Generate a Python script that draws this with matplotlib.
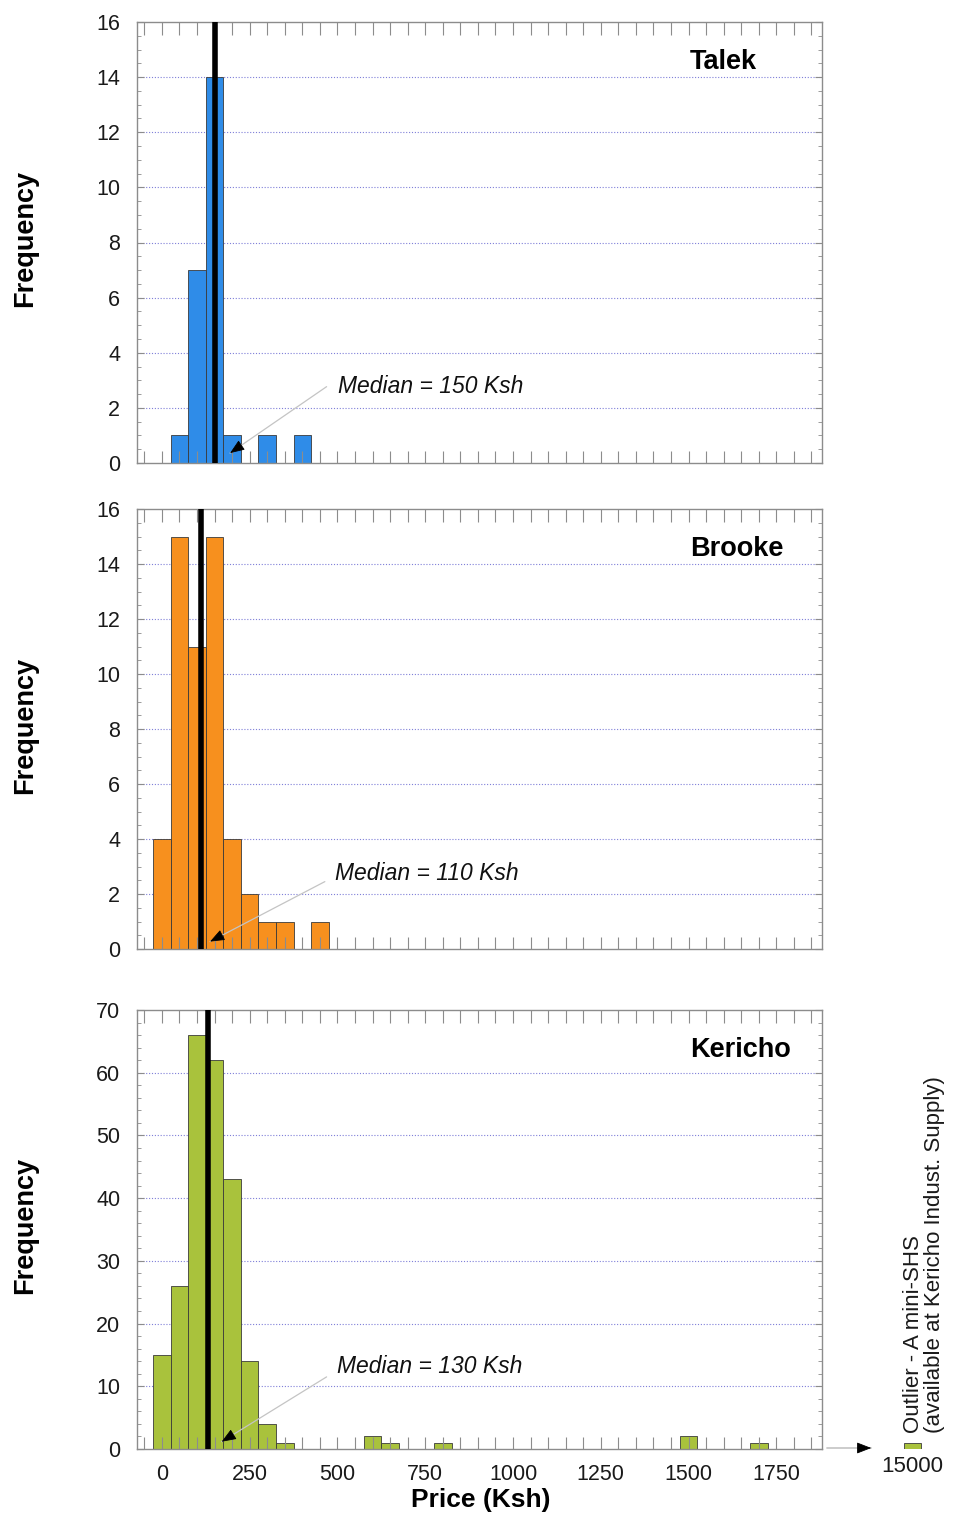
import numpy as np
import matplotlib
matplotlib.use("Agg")
import matplotlib.pyplot as plt
from matplotlib.ticker import MultipleLocator, FuncFormatter

plt.rcParams['font.family'] = ['Liberation Sans', 'DejaVu Sans']

# ---- data: price histograms (bin centres in Ksh, 50 Ksh wide bins) ----
site_names = ['Talek', 'Brooke', 'Kericho']
talek_bins = [50, 100, 150, 200, 300, 400]
talek_counts = [1, 7, 14, 1, 1, 1]
brooke_bins = [0, 50, 100, 150, 200, 250, 300, 350, 450]
brooke_counts = [4, 15, 11, 15, 4, 2, 1, 1, 1]
kericho_bins = [0, 50, 100, 150, 200, 250, 300, 350, 600, 650, 800, 1500, 1700]
kericho_counts = [15, 26, 66, 62, 43, 14, 4, 1, 2, 1, 1, 2, 1]
medians = [150, 110, 130]
outlier_price = 15000
outlier_count = 1
bin_width = 50
x_tick_labels = [0, 250, 500, 750, 1000, 1250, 1500, 1750]

bins_list = [talek_bins, brooke_bins, kericho_bins]
counts_list = [talek_counts, brooke_counts, kericho_counts]
colors = ['#2f8ce8', '#f7901e', '#a9c23c']
y_max = [16, 16, 70]
y_major = [2, 2, 10]
y_minor = [0.5, 0.5, 2]

W, H = 955, 1515
fig = plt.figure(figsize=(W / 100, H / 100), dpi=100)


def px_rect(l, t, r, b):
    return [l / W, 1 - b / H, (r - l) / W, (b - t) / H]


panel_px = [(137, 22, 822, 463), (137, 509, 822, 949), (137, 1010, 822, 1449)]
XLIM = (-71, 1880)
PX_PER_KSH = (822 - 137) / (XLIM[1] - XLIM[0])

# annotation layout: text anchor, pointer tail, pointer tip (data coords)
med_text_pos = [(501, 2.79), (493, 2.73), (499, 13.2)]
ptr_tail = [(469, 2.77), (464, 2.45), (469, 11.5)]
ptr_tip = [(194, 0.36), (137, 0.27), (170, 1.16)]

spine_col = '#8c8c8c'
grid_col = '#7f7fd8'
tick_fs = 15.5

axes = []
for i in range(3):
    ax = fig.add_axes(px_rect(*panel_px[i]))
    axes.append(ax)
    ax.set_xlim(*XLIM)
    ax.set_ylim(0, y_max[i])

    # dotted horizontal guides behind the bars
    for yv in np.arange(y_major[i], y_max[i], y_major[i]):
        ax.axhline(yv, color=grid_col, lw=0.8, ls=(0, (1, 1.6)), zorder=0.5)

    ax.bar(bins_list[i], counts_list[i], width=bin_width, color=colors[i],
           edgecolor='#3a3a3a', linewidth=0.6, zorder=1)

    ax.axvline(medians[i], color='black', lw=4.0, zorder=3)

    for s in ax.spines.values():
        s.set_color(spine_col)
        s.set_linewidth(1.0)

    ax.xaxis.set_major_locator(MultipleLocator(50))
    ax.yaxis.set_major_locator(MultipleLocator(y_major[i]))
    ax.yaxis.set_minor_locator(MultipleLocator(y_minor[i]))
    ax.tick_params(axis='both', which='both', direction='in', colors=spine_col,
                   top=True, right=True, labelcolor='#1a1a1a', labelsize=tick_fs)
    ax.tick_params(axis='x', which='major', length=9, width=0.8, pad=11)
    ax.tick_params(axis='y', which='major', length=5, width=0.8, pad=12)
    ax.tick_params(axis='y', which='minor', length=3, width=0.6)

    if i < 2:
        ax.tick_params(axis='x', labelbottom=False)
    else:
        ax.xaxis.set_major_formatter(FuncFormatter(
            lambda v, p: f'{int(round(v))}' if int(round(v)) in x_tick_labels else ''))

    ax.text((690 - 137) / 685, 1 - 40 / 441, site_names[i], transform=ax.transAxes,
            ha='left', va='center', fontsize=19.5, fontweight='bold', color='black')

    ax.text(med_text_pos[i][0], med_text_pos[i][1], f'Median = {medians[i]} Ksh',
            ha='left', va='center', fontsize=16.5, fontstyle='italic', color='#111111', zorder=4)

    # thin grey leader with a black arrow head
    ax.annotate('', xy=ptr_tip[i], xytext=ptr_tail[i],
                arrowprops=dict(arrowstyle='-', color='#c4c4c4', lw=0.9,
                                shrinkA=0, shrinkB=0), zorder=4)
    p0 = ax.transData.transform(ptr_tail[i])
    p1 = ax.transData.transform(ptr_tip[i])
    d = (p0 - p1) / np.hypot(*(p0 - p1))
    off = d * 13 * 72 / 100
    ax.annotate('', xy=ptr_tip[i], xytext=(off[0], off[1]), textcoords='offset points',
                arrowprops=dict(arrowstyle='-|>,head_length=0.9,head_width=0.35',
                                color='black', lw=0.6, shrinkA=0, shrinkB=0), zorder=5)

    fig.text(25 / W, 1 - ((panel_px[i][1] + panel_px[i][3]) / 2 - 4) / H, 'Frequency',
             rotation=90, ha='center', va='center', fontsize=19.5, fontweight='bold')

fig.text(481 / W, 1 - 1500 / H, 'Price (Ksh)', ha='center', va='center',
         fontsize=19, fontweight='bold')

# the single far outlier, drawn on its own small axis sharing the count scale
ol_left, ol_w = 895, 40
ax_out = fig.add_axes(px_rect(ol_left, 1010, ol_left + ol_w, 1449))
ax_out.set_xlim(14950, 14950 + ol_w / PX_PER_KSH)
ax_out.set_ylim(0, y_max[2])
ax_out.bar([outlier_price], [outlier_count], width=bin_width, color=colors[2],
           edgecolor='#3a3a3a', linewidth=0.6)
for s in ax_out.spines.values():
    s.set_visible(False)
ax_out.set_yticks([])
ax_out.set_xticks([outlier_price])
ax_out.set_xticklabels([str(outlier_price)])
ax_out.tick_params(axis='x', length=0, labelsize=16, labelcolor='#1a1a1a', pad=5)
for lbl in ax_out.get_xticklabels():
    lbl.set_x(lbl.get_position()[0])
ax_out.patch.set_alpha(0)

fig.text(924 / W, 1 - 1433 / H,
         'Outlier - A mini-SHS\n(available at Kericho Indust. Supply)',
         rotation=90, ha='center', va='bottom', multialignment='left',
         fontsize=16, color='#1a1a1a', linespacing=1.05)

# arrow from the main axis to the outlier
y_arr = 1 - 1448 / H
fig.add_artist(matplotlib.patches.FancyArrowPatch(
    (824 / W, y_arr), (874 / W, y_arr), transform=fig.transFigure,
    arrowstyle='-', color='#b0b0b0', lw=0.9))
fig.add_artist(matplotlib.patches.FancyArrowPatch(
    (858 / W, y_arr), (874 / W, y_arr), transform=fig.transFigure,
    arrowstyle='-|>,head_length=0.9,head_width=0.35', color='black', lw=0.6,
    mutation_scale=10))

fig.savefig('out.png', dpi=100, facecolor='white')
